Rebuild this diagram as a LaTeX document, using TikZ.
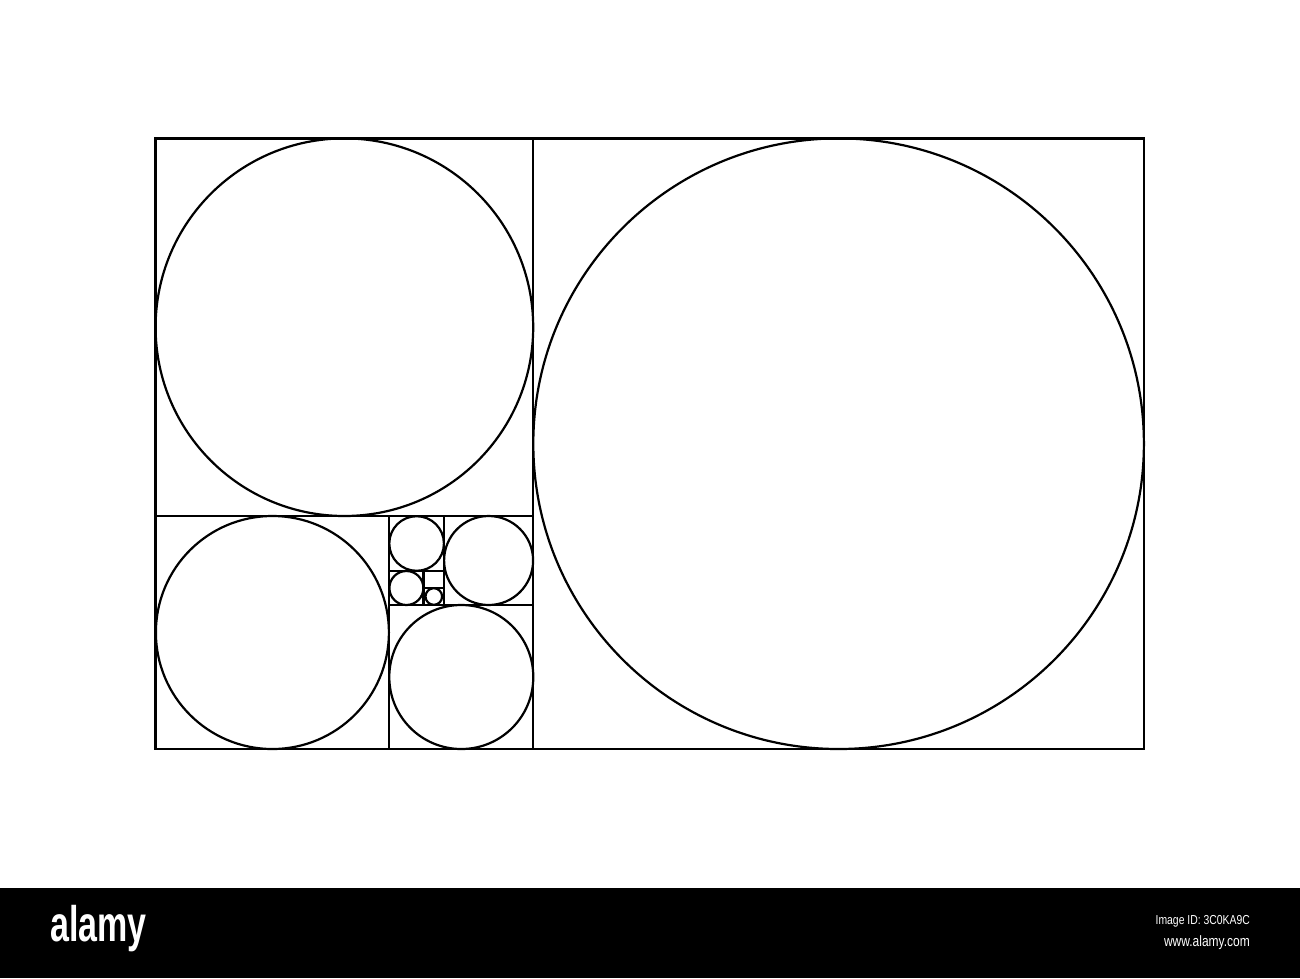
\documentclass[tikz,border=0pt]{standalone}
\usepackage{fontspec}
\setmainfont{Liberation Sans}
\begin{document}
\begin{tikzpicture}[x=1pt,y=-1pt,
  ln/.style={draw=black,line width=2.2pt},
  band/.style={fill=black,draw=none},
  wtext/.style={text=white,inner sep=0pt}]
\useasboundingbox (0,0) rectangle (1300,978);
\fill[white] (0,0) rectangle (1300,978);
% squares
\draw[ln] (155.5,138.5) rectangle (1144,749);
\draw[ln] (533.3,138.5) -- (533.3,749);
\draw[ln] (155.5,516) -- (533.3,516);
\draw[ln] (389.3,516) -- (389.3,749);
\draw[ln] (389.3,605) -- (533.3,605);
\draw[ln] (444,516) -- (444,605);
\draw[ln] (389.3,571) -- (444,571);
\draw[ln] (423.5,571) -- (423.5,605);
\draw[ln] (423.5,588) -- (444,588);
% circles
\draw[ln] (838.6,443.7) circle (305.3);
\draw[ln] (344.4,327.2) circle (188.8);
\draw[ln] (272.4,632.5) circle (116.5);
\draw[ln] (461.3,677) circle (72);
\draw[ln] (488.6,560.5) circle (44.5);
\draw[ln] (416.6,543.5) circle (27.3);
\draw[ln] (406.4,588) circle (17);
\draw[ln] (433.8,596.5) circle (8.3);
% watermark band
\fill[band] (0,888) rectangle (1300,978);
\node[wtext,anchor=west,font=\bfseries\fontsize{50}{50}\selectfont,xscale=0.68] (logo) at (50,929) {alamy};
\node[wtext,anchor=east,font=\fontsize{13}{13}\selectfont,xscale=0.8] (imgid) at (1250,921) {Image ID: 3C0KA9C};
\node[wtext,anchor=east,font=\fontsize{15}{15}\selectfont,xscale=0.8] (url) at (1250,943) {www.alamy.com};
\end{tikzpicture}
\end{document}
